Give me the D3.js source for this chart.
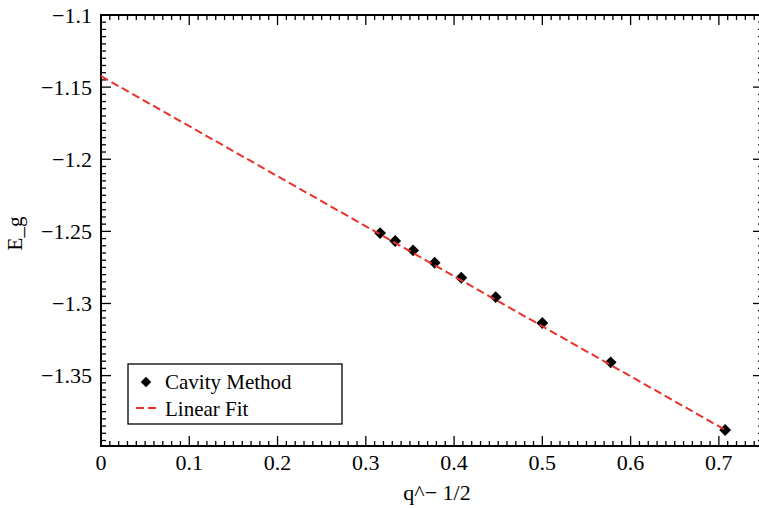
<!DOCTYPE html>
<html>
<head>
<meta charset="utf-8">
<script src="https://cdn.jsdelivr.net/npm/d3@7"></script>
<style>
  html, body { margin: 0; padding: 0; background: #fff; }
  svg { display: block; }
</style>
</head>
<body>
<svg id="chart" width="759" height="508" font-family="Liberation Serif"></svg>
<script>
// Ground-state energy vs q^(-1/2), q = 10 ... 2
const xValues = [0.3162, 0.3333, 0.3536, 0.3780, 0.4082, 0.4472, 0.5000, 0.5774, 0.7071];
const energyValues = [-1.2512, -1.2567, -1.2632, -1.2718, -1.2822, -1.2956, -1.3135, -1.3408, -1.3877];

// Linear fit E = a + b * x
const fitIntercept = -1.1424;
const fitSlope = -0.3468;
const fitRange = [0, 0.7071];

const xTickValues = [0, 0.1, 0.2, 0.3, 0.4, 0.5, 0.6, 0.7];
const xTickLabels = ["0", "0.1", "0.2", "0.3", "0.4", "0.5", "0.6", "0.7"];
const yTickValues = [-1.1, -1.15, -1.2, -1.25, -1.3, -1.35];
const yTickLabels = ["\u22121.1", "\u22121.15", "\u22121.2", "\u22121.25", "\u22121.3", "\u22121.35"];

const legendLabels = ["Cavity Method", "Linear Fit"];

const svg = d3.select("#chart");
const plotLeft = 101, plotRight = 763, plotTop = 15, plotBottom = 446;
const fontSize = 22;

const x = d3.scaleLinear().domain([0, 0.75]).range([plotLeft, plotRight]);
const y = d3.scaleLinear().domain([-1.3988, -1.1]).range([plotBottom, plotTop]);

const xMinor = d3.range(0, 0.7501, 0.01).map(v => +v.toFixed(3));
const yMinor = d3.range(-1.395, -1.0999, 0.005).map(v => +v.toFixed(4));

const isMajorX = v => xTickValues.some(t => Math.abs(t - v) < 1e-6);
const isMajorY = v => yTickValues.some(t => Math.abs(t - v) < 1e-6);

// Inward ticks on all four sides
const tickG = svg.append("g").attr("stroke", "#000").attr("stroke-width", 1.3);
xMinor.forEach(v => {
  const len = isMajorX(v) ? 10 : 5;
  const px = x(v);
  tickG.append("line").attr("x1", px).attr("x2", px).attr("y1", plotBottom).attr("y2", plotBottom - len);
  tickG.append("line").attr("x1", px).attr("x2", px).attr("y1", plotTop).attr("y2", plotTop + len);
});
yMinor.forEach(v => {
  const len = isMajorY(v) ? 10 : 5;
  const py = y(v);
  tickG.append("line").attr("x1", plotLeft).attr("x2", plotLeft + len).attr("y1", py).attr("y2", py);
  tickG.append("line").attr("x1", plotRight).attr("x2", plotRight - len).attr("y1", py).attr("y2", py);
});

// Frame
svg.append("rect")
  .attr("x", plotLeft).attr("y", plotTop)
  .attr("width", plotRight - plotLeft).attr("height", plotBottom - plotTop)
  .attr("fill", "none").attr("stroke", "#000").attr("stroke-width", 2);

// Tick labels
svg.append("g").selectAll("text").data(xTickValues).join("text")
  .attr("x", d => x(d)).attr("y", 470)
  .attr("text-anchor", "middle").attr("font-size", fontSize)
  .text((d, i) => xTickLabels[i]);

svg.append("g").selectAll("text").data(yTickValues).join("text")
  .attr("x", 92).attr("y", d => y(d)).attr("dy", "0.35em")
  .attr("text-anchor", "end").attr("font-size", fontSize)
  .text((d, i) => yTickLabels[i]);

// Axis titles
svg.append("text")
  .attr("x", (plotLeft + plotRight) / 2 + 5).attr("y", 500)
  .attr("text-anchor", "middle").attr("font-size", fontSize)
  .text("q^\u2212 1/2");

svg.append("text")
  .attr("transform", `translate(22, ${(plotTop + plotBottom) / 2 + 3}) rotate(-90)`)
  .attr("text-anchor", "middle").attr("font-size", fontSize - 1)
  .text("E_g");

// Data markers
const diamond = d3.symbol().type(d3.symbolDiamond2).size(90);
svg.append("g").selectAll("path").data(xValues).join("path")
  .attr("d", diamond)
  .attr("transform", (d, i) => `translate(${x(d)},${y(energyValues[i])})`)
  .attr("fill", "#000");

// Fit line
const fitLine = d3.line().x(d => x(d)).y(d => y(fitIntercept + fitSlope * d));
svg.append("path")
  .datum(fitRange)
  .attr("d", fitLine)
  .attr("fill", "none")
  .attr("stroke", "#e8322a")
  .attr("stroke-width", 2)
  .attr("stroke-dasharray", "8,4");

// Legend
const lg = svg.append("g");
lg.append("rect")
  .attr("x", 128).attr("y", 364).attr("width", 214).attr("height", 60)
  .attr("fill", "#fff").attr("stroke", "#000").attr("stroke-width", 1.3);
lg.append("path")
  .attr("d", d3.symbol().type(d3.symbolDiamond2).size(70))
  .attr("transform", "translate(146,382)")
  .attr("fill", "#000");
lg.append("line")
  .attr("x1", 136).attr("x2", 158).attr("y1", 408).attr("y2", 408)
  .attr("stroke", "#e8322a").attr("stroke-width", 2)
  .attr("stroke-dasharray", "8,4");
lg.append("text").attr("x", 165).attr("y", 389).attr("font-size", fontSize - 1).text(legendLabels[0]);
lg.append("text").attr("x", 165).attr("y", 416).attr("font-size", fontSize - 1).text(legendLabels[1]);
</script>
</body>
</html>
